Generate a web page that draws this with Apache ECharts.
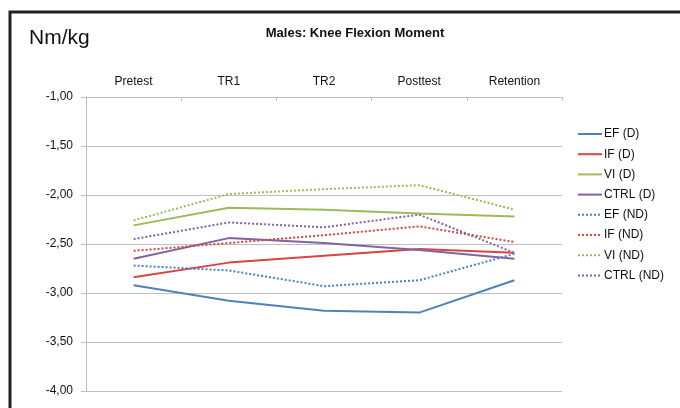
<!DOCTYPE html>
<html>
<head>
<meta charset="utf-8">
<script src="https://cdn.jsdelivr.net/npm/echarts@6/dist/echarts.min.js"></script>
<style>
html,body{margin:0;padding:0;background:#fff;}
#chart{width:680px;height:408px;}
</style>
</head>
<body>
<div id="chart"></div>
<script>
var categories = ['Pretest', 'TR1', 'TR2', 'Posttest', 'Retention'];
var seriesNames = ['EF (D)', 'IF (D)', 'VI (D)', 'CTRL (D)', 'EF (ND)', 'IF (ND)', 'VI (ND)', 'CTRL (ND)'];
var efD = [-2.92, -3.08, -3.18, -3.20, -2.87];
var ifD = [-2.84, -2.69, -2.62, -2.55, -2.59];
var viD = [-2.31, -2.13, -2.15, -2.19, -2.22];
var ctrlD = [-2.65, -2.44, -2.49, -2.56, -2.65];
var efND = [-2.72, -2.77, -2.93, -2.87, -2.60];
var ifND = [-2.57, -2.49, -2.41, -2.32, -2.48];
var viND = [-2.26, -1.99, -1.94, -1.90, -2.15];
var ctrlND = [-2.45, -2.28, -2.33, -2.20, -2.59];
var allData = [efD, ifD, viD, ctrlD, efND, ifND, viND, ctrlND];
var colors = ['#4f81bd', '#d9443f', '#9bbb59', '#8064a2', '#4f81bd', '#d9443f', '#9bbb59', '#8064a2'];

var myChart = echarts.init(document.getElementById('chart'));
var series = [];
for (var i = 0; i < allData.length; i++) {
	series.push({
		name: seriesNames[i],
		type: 'line',
		data: allData[i],
		symbol: 'none',
		silent: true,
		color: colors[i],
		lineStyle: {
			width: 2,
			type: i < 4 ? 'solid' : 'dotted',
			color: colors[i]
		}
	});
}
var option = {
	animation: false,
	textStyle: { fontFamily: 'Liberation Sans, Arial, sans-serif' },
	graphic: [
		{ // frame round the chart
			type: 'polyline',
			shape: { points: [[10, 408], [10, 12], [680, 12]] },
			style: { stroke: '#222', lineWidth: 3, fill: null }
		},
		{
			type: 'text', left: 29, top: 28,
			style: { text: 'Nm/kg', font: '21px "Liberation Sans", Arial, sans-serif', fill: '#111' }
		}
	],
	title: {
		text: 'Males: Knee Flexion Moment',
		left: 350, top: 22, textAlign: 'center',
		textStyle: { fontSize: 13, fontWeight: 'bold', color: '#111', fontFamily: 'Liberation Sans, Arial, sans-serif' }
	},
	legend: {
		orient: 'vertical',
		left: 572, top: 123,
		itemWidth: 24, itemHeight: 14, itemGap: 8.2,
		data: seriesNames,
		itemStyle: { opacity: 0 },
		textStyle: { fontSize: 12, color: '#111', padding: [0, 0, 0, -3] }
	},
	grid: { left: 86, right: 118, top: 97, bottom: 17 },
	xAxis: {
		type: 'category',
		position: 'top',
		data: categories,
		boundaryGap: true,
		axisLine: { show: true, lineStyle: { color: '#bfbfbf' } },
		axisTick: { show: true, inside: true, length: 4, lineStyle: { color: '#bfbfbf' } },
		axisLabel: { color: '#111', fontSize: 12, margin: 9 }
	},
	yAxis: {
		type: 'value',
		min: -4, max: -1, interval: 0.5,
		axisLine: { show: true, lineStyle: { color: '#bfbfbf' } },
		axisTick: { show: true, length: 5, lineStyle: { color: '#bfbfbf' } },
		splitLine: { lineStyle: { color: '#bfbfbf' } },
		axisLabel: {
			color: '#111', fontSize: 12, margin: 13,
			formatter: function (v) { return v.toFixed(2).replace('.', ','); }
		}
	},
	series: series
};
myChart.setOption(option);
</script>
</body>
</html>
